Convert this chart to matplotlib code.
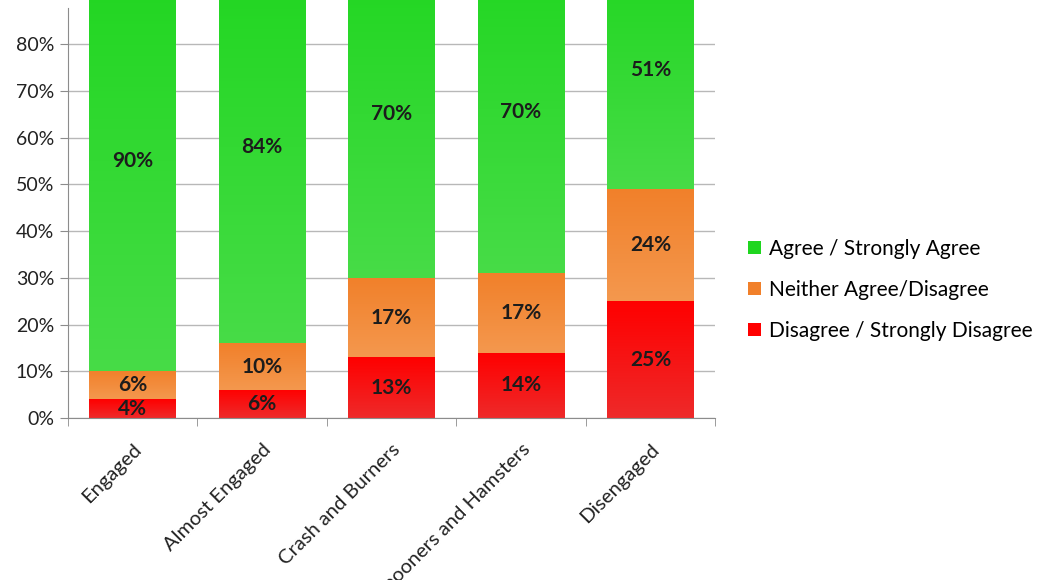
import numpy as np
import matplotlib.pyplot as plt
from matplotlib.colors import LinearSegmentedColormap
from matplotlib.patches import Patch

plt.rcParams['font.family'] = ['Lato', 'DejaVu Sans']

segments = ["Engaged", "Almost Engaged", "Crash and Burners",
            "Spooners and Hamsters", "Disengaged"]
disagree = [4, 6, 13, 14, 25]
neither = [6, 10, 17, 17, 24]
agree = [90, 84, 70, 70, 51]

series_names = ["Agree / Strongly Agree", "Neither Agree/Disagree",
                "Disagree / Strongly Disagree"]
y_ticks = [0, 10, 20, 30, 40, 50, 60, 70, 80]

# (bottom colour, top colour) for each stack layer
shades = {
    "disagree": ("#ee2a2a", "#ff0000"),
    "neither": ("#f4984e", "#f1802a"),
    "agree": ("#47dc47", "#1fd61f"),
}


def gradient_bars(ax, x, heights, bottoms, colours, width):
    cmap = LinearSegmentedColormap.from_list("g", list(colours))
    grad = np.linspace(0, 1, 256).reshape(-1, 1)
    bars = ax.bar(x, heights, width, bottom=bottoms, color="none",
                  edgecolor="none", zorder=2)
    for bar in bars:
        x0, y0 = bar.get_x(), bar.get_y()
        im = ax.imshow(grad, cmap=cmap, origin="lower", aspect="auto",
                       extent=(x0, x0 + bar.get_width(), y0, y0 + bar.get_height()),
                       zorder=2, interpolation="bicubic")
        im.set_clip_path(bar)
    return bars


fig = plt.figure(figsize=(10.42, 5.8), dpi=100)
ax = fig.add_axes([0.0653, 0.279, 0.621, 0.707])

x = np.arange(len(segments))
width = 0.67
bottom2 = np.array(disagree)
bottom3 = bottom2 + np.array(neither)

layers = [
    (disagree, np.zeros(len(x)), shades["disagree"]),
    (neither, bottom2, shades["neither"]),
    (agree, bottom3, shades["agree"]),
]

ymax = 87.7
for vals, bots, cols in layers:
    gradient_bars(ax, x, vals, bots, cols, width)
    for xi, v, b in zip(x, vals, bots):
        top = min(b + v, 100)
        yc = (b + top) / 2
        ax.text(xi, yc, f"{v}%", ha="center", va="center", fontsize=15,
                fontweight="bold", color="#1c1c1c", zorder=4)

ax.set_xlim(-0.5, len(segments) - 0.5)
ax.set_ylim(0, ymax)

ax.set_yticks(y_ticks)
ax.set_yticklabels([f"{t}%" for t in y_ticks], fontsize=14, color="#222222")
ax.yaxis.grid(True, color="#b8b8b8", linewidth=1)
ax.set_axisbelow(True)

ax.set_xticks(x)
ax.set_xticklabels(segments, rotation=45, ha="right", rotation_mode="anchor",
                   fontsize=14.5, color="#222222")
ax.tick_params(axis="x", length=0, pad=16)
ax.set_xticks(np.arange(-0.5, len(segments)), minor=True)
ax.tick_params(axis="x", which="minor", length=6, color="#8c8c8c")
ax.tick_params(axis="y", length=6, color="#8c8c8c", pad=4)

for side in ["top", "right"]:
    ax.spines[side].set_visible(False)
for side in ["left", "bottom"]:
    ax.spines[side].set_color("#8c8c8c")

handles = [Patch(facecolor=shades["agree"][1], edgecolor="none"),
           Patch(facecolor=shades["neither"][1], edgecolor="none"),
           Patch(facecolor=shades["disagree"][1], edgecolor="none")]
fig.legend(handles, series_names, loc="center left",
           bbox_to_anchor=(0.700, 0.50), frameon=False, fontsize=15,
           handlelength=0.6, handleheight=0.6, handletextpad=0.4,
           labelspacing=1.0)

fig.savefig("out.png", dpi=100)
